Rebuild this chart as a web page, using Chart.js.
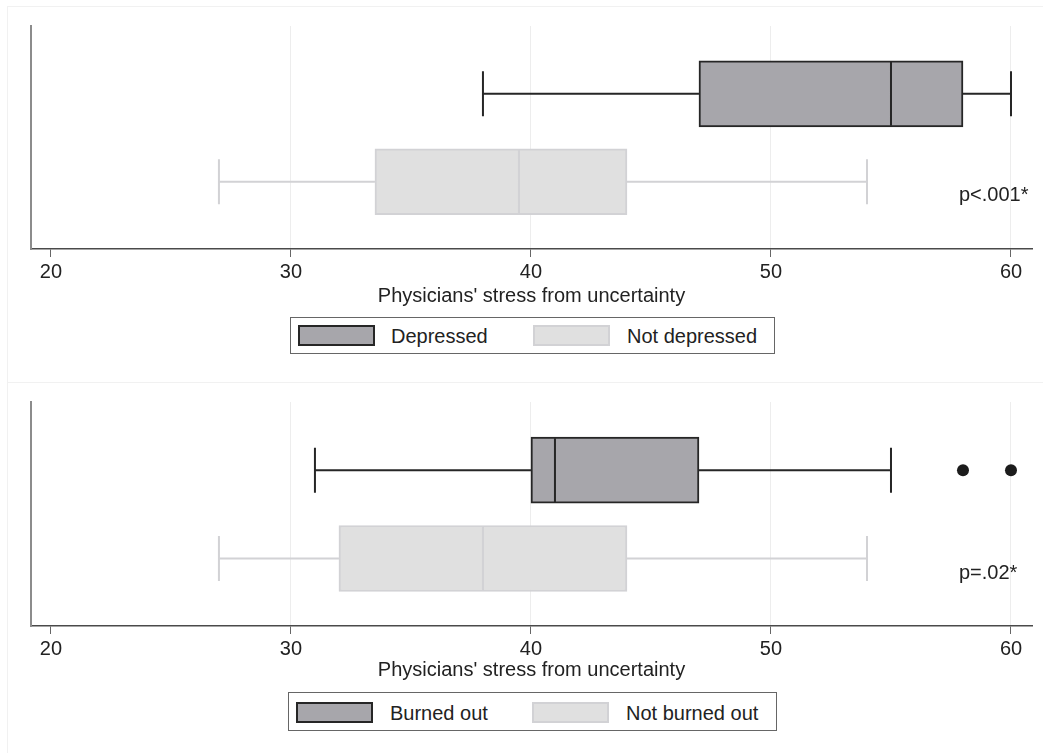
<!DOCTYPE html>
<html>
<head>
<meta charset="utf-8">
<script src="https://cdn.jsdelivr.net/npm/chart.js@4.4.1/dist/chart.umd.min.js"></script>
<style>
  html, body { margin:0; padding:0; background:#fff; }
  body { width:1043px; height:753px; position:relative; overflow:hidden;
         font-family:"Liberation Sans", Arial, Helvetica, sans-serif; color:#222; }
  .panel { position:absolute; left:7px; right:-2px; border:1px solid #f1f1f1; border-right:none; }
  .cv { position:absolute; left:0; }
  .legend { position:absolute; border:1px solid #666; box-sizing:border-box; background:#fff; }
  .sw { position:absolute; box-sizing:border-box; width:77px; height:21px; }
  .lt { position:absolute; font-size:20px; line-height:20px; white-space:nowrap; }
  .pv { position:absolute; font-size:20px; line-height:20px; white-space:nowrap; }
</style>
</head>
<body>
<div class="panel" style="top:6px;height:376px;border-bottom:none;"></div>
<div class="panel" style="top:382px;height:380px;"></div>

<canvas id="c1" class="cv" style="top:0px" width="1043" height="308"></canvas>
<canvas id="c2" class="cv" style="top:380px" width="1043" height="302"></canvas>

<div class="legend" style="left:290px;top:317px;width:485px;height:37px;">
  <div class="sw" style="left:7px;top:7px;background:#a7a6ab;border:2px solid #262626;"></div>
  <div class="lt" style="left:100px;top:8px;">Depressed</div>
  <div class="sw" style="left:242px;top:7px;background:#e0e0e0;border:2px solid #d2d2d5;"></div>
  <div class="lt" style="left:336px;top:8px;">Not depressed</div>
</div>
<div class="legend" style="left:288px;top:692px;width:489px;height:39px;">
  <div class="sw" style="left:7px;top:9px;background:#a7a6ab;border:2px solid #262626;"></div>
  <div class="lt" style="left:101px;top:10px;">Burned out</div>
  <div class="sw" style="left:243px;top:9px;background:#e0e0e0;border:2px solid #d2d2d5;"></div>
  <div class="lt" style="left:337px;top:10px;">Not burned out</div>
</div>

<div class="pv" style="left:959px;top:184px;">p&lt;.001*</div>
<div class="pv" style="left:959px;top:562px;">p=.02*</div>

<script>
// ---------- data ----------
const xTicks = [20, 30, 40, 50, 60];
const axisTitle = "Physicians' stress from uncertainty";

const topGroups   = ['Depressed', 'Not depressed'];
const topMin      = [38, 27];
const topQ1       = [47, 33.5];
const topMedian   = [55, 39.5];
const topQ3       = [58, 44];
const topMax      = [60, 54];
const topOutliers = [[], []];

const botGroups   = ['Burned out', 'Not burned out'];
const botMin      = [31, 27];
const botQ1       = [40, 32];
const botMedian   = [41, 38];
const botQ3       = [47, 44];
const botMax      = [55, 54];
const botOutliers = [[58, 60], []];

// ---------- styles ----------
const FONT = "'Liberation Sans', Arial, Helvetica, sans-serif";
const fills   = ['#a7a6ab', '#e0e0e0'];
const strokes = ['#262626', '#d2d2d5'];
const rowPos  = [1, 0];   // first group drawn on top

const boxPlugin = {
  id: 'boxWhiskers',
  afterDatasetsDraw(chart, args, opts) {
    const { ctx, scales: { x, y } } = chart;
    const half = opts.boxHeight / 2;
    const cap = opts.capHeight / 2;
    opts.stats.forEach((st) => {
      const yc = y.getPixelForValue(st.pos);
      const px = (v) => x.getPixelForValue(v);
      ctx.save();
      ctx.strokeStyle = st.color;
      ctx.lineWidth = 2;
      ctx.beginPath();
      ctx.moveTo(px(st.min), yc); ctx.lineTo(px(st.q1), yc);
      ctx.moveTo(px(st.q3), yc); ctx.lineTo(px(st.max), yc);
      ctx.moveTo(px(st.min), yc - cap); ctx.lineTo(px(st.min), yc + cap);
      ctx.moveTo(px(st.max), yc - cap); ctx.lineTo(px(st.max), yc + cap);
      ctx.moveTo(px(st.med), yc - half + 1); ctx.lineTo(px(st.med), yc + half - 1);
      ctx.stroke();
      ctx.restore();
    });
  }
};

function makeChart(id, groups, mins, q1s, meds, q3s, maxs, outs, padTop, padBottom, xAxisH) {
  const datasets = groups.map((g, i) => ({
    type: 'bar',
    label: g,
    data: [{ x: [q1s[i], q3s[i]], y: rowPos[i] }],
    backgroundColor: fills[i],
    borderColor: strokes[i],
    borderWidth: 2,
    borderSkipped: false,
    barThickness: 66,
    grouped: false
  }));
  const outPts = [];
  groups.forEach((g, i) => outs[i].forEach(v => outPts.push({ x: v, y: rowPos[i] })));
  datasets.push({
    type: 'scatter',
    label: 'outliers',
    data: outPts,
    pointRadius: 6,
    pointBackgroundColor: '#1c1c1c',
    pointBorderColor: '#1c1c1c',
    pointBorderWidth: 0
  });
  const stats = groups.map((g, i) => ({
    pos: rowPos[i], min: mins[i], q1: q1s[i], med: meds[i], q3: q3s[i], max: maxs[i], color: strokes[i]
  }));

  return new Chart(document.getElementById(id), {
    type: 'bar',
    data: { datasets },
    plugins: [boxPlugin],
    options: {
      indexAxis: 'y',
      responsive: false,
      animation: false,
      devicePixelRatio: 1,
      layout: { padding: { left: 0, right: 11, top: padTop, bottom: padBottom } },
      plugins: {
        legend: { display: false },
        tooltip: { enabled: false },
        boxWhiskers: { stats, boxHeight: 66, capHeight: 45 }
      },
      scales: {
        x: {
          type: 'linear',
          position: 'bottom',
          offset: false,
          min: 19.17,
          max: 60.875,
          afterBuildTicks: (s) => { s.ticks = xTicks.map(v => ({ value: v })); },
          afterFit: (s) => { s.height = xAxisH; },
          ticks: {
            font: { family: FONT, size: 20 },
            color: '#222',
            padding: 3,
            maxRotation: 0,
            callback: (v) => String(v)
          },
          grid: {
            offset: false,
            color: (c) => (c.tick && c.tick.value === 20) ? 'rgba(0,0,0,0)' : '#ededed',
            lineWidth: 1,
            tickColor: '#666',
            tickLength: 8,
            drawTicks: true
          },
          border: { display: true, color: '#4a4a4a', width: 1.5 },
          title: {
            display: true,
            text: axisTitle,
            font: { family: FONT, size: 20 },
            color: '#222',
            padding: { top: 0, bottom: 0 }
          }
        },
        y: {
          type: 'linear',
          offset: false,
          min: -0.765,
          max: 1.772,
          afterFit: (s) => { s.width = 31; },
          ticks: { display: false },
          grid: { display: false, drawTicks: false, offset: false },
          border: { display: true, color: '#8c8c8c', width: 2 }
        }
      }
    }
  });
}

makeChart('c1', topGroups, topMin, topQ1, topMedian, topQ3, topMax, topOutliers, 26, 0, 59);
makeChart('c2', botGroups, botMin, botQ1, botMedian, botQ3, botMax, botOutliers, 22, 0, 56);
</script>
</body>
</html>
